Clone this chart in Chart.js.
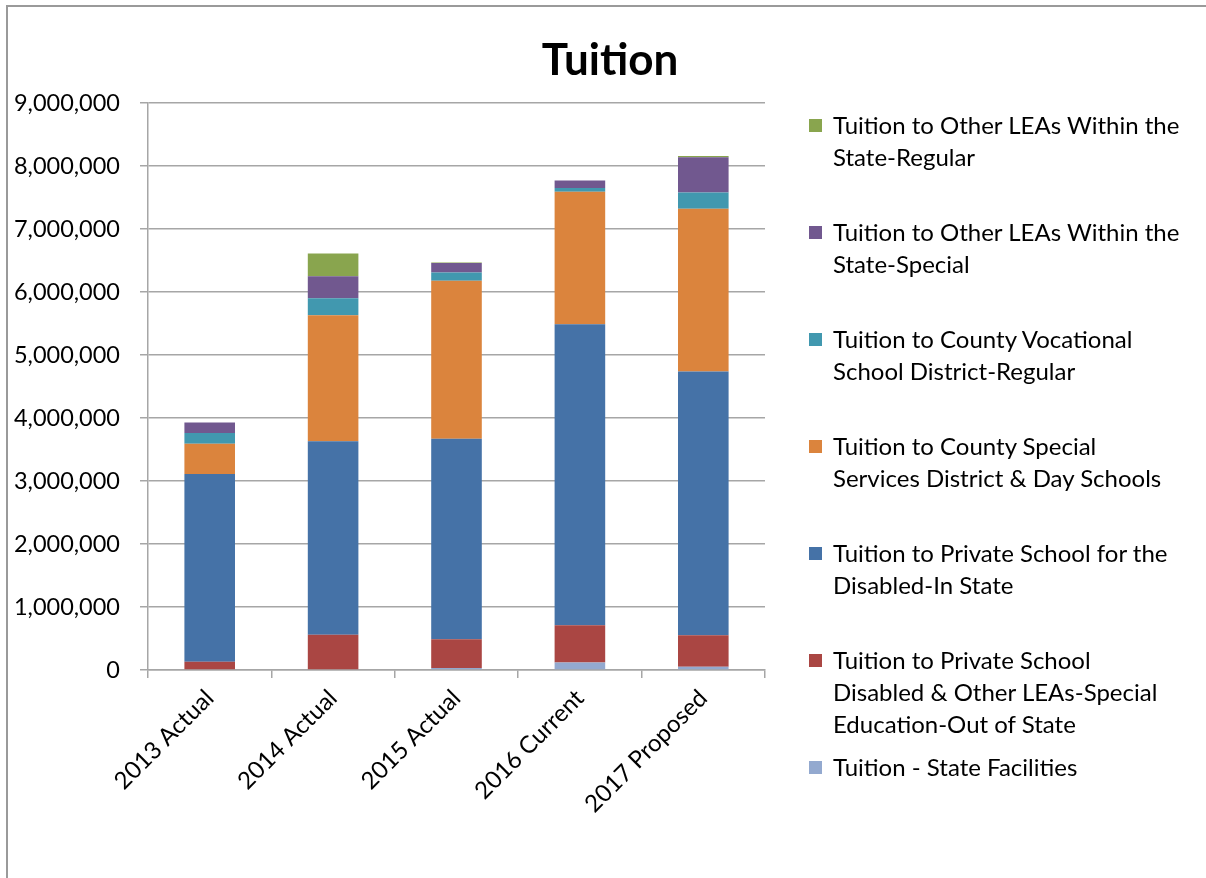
<!DOCTYPE html>
<html>
<head>
<meta charset="utf-8">
<script src="https://cdn.jsdelivr.net/npm/chart.js@4/dist/chart.umd.min.js"></script>
<style>
    html, body { margin: 0; padding: 0; background: #fff; }
    #wrap { position: relative; width: 1206px; height: 878px; overflow: hidden; }
    #frame {
        position: absolute; left: 6px; top: 5px; width: 1200px; height: 873px;
        border-top: 2px solid #9a9a9a; border-left: 2px solid #9a9a9a;
        pointer-events: none;
    }
    #chart { position: absolute; left: 0; top: 0; }
    #title {
        position: absolute; left: 0; width: 1220px; top: 30px; text-align: center;
        font-family: Lato, sans-serif; font-weight: bold; font-size: 44px; line-height: 56px; color: #000;
    }
    #legend {
        position: absolute; left: 809px; top: 109px; width: 395px;
        font-family: Lato, sans-serif; font-size: 24px; line-height: 32px; color: #000;
    }
    .item { position: relative; height: 107px; padding-left: 24px; white-space: nowrap; }
    .box { position: absolute; left: 0; top: 10px; width: 13px; height: 13px; }
</style>
</head>
<body>
<div id="wrap">
    <canvas id="chart" width="1206" height="878"></canvas>
    <div id="frame"></div>
    <div id="title">Tuition</div>
    <div id="legend"></div>
</div>
<script>
const categories = ["2013 Actual", "2014 Actual", "2015 Actual", "2016 Current", "2017 Proposed"];

// series, bottom of the stack first
const stateFacilities   = [0, 0, 30000, 120000, 50000];
const privateOutOfState = [130000, 560000, 460000, 590000, 500000];
const privateInState    = [2980000, 3070000, 3180000, 4780000, 4190000];
const countySpecial     = [480000, 2000000, 2510000, 2100000, 2580000];
const countyVocational  = [170000, 270000, 130000, 60000, 260000];
const otherLeaSpecial   = [170000, 350000, 150000, 120000, 560000];
const otherLeaRegular   = [0, 360000, 10000, 0, 20000];

const yTicks = [0, 1000000, 2000000, 3000000, 4000000, 5000000, 6000000, 7000000, 8000000, 9000000];

// legend lines as wrapped in the original
const seriesNames = [
    ["Tuition - State Facilities"],
    ["Tuition to Private School", "Disabled & Other LEAs-Special", "Education-Out of State"],
    ["Tuition to Private School for the", "Disabled-In State"],
    ["Tuition to County Special", "Services District & Day Schools"],
    ["Tuition to County Vocational", "School District-Regular"],
    ["Tuition to Other LEAs Within the", "State-Special"],
    ["Tuition to Other LEAs Within the", "State-Regular"],
];
const colors = ["#93A9CF", "#AA4643", "#4572A7", "#DB843D", "#4198AF", "#71588F", "#89A54E"];
const seriesData = [stateFacilities, privateOutOfState, privateInState, countySpecial,
    countyVocational, otherLeaSpecial, otherLeaRegular];

const FONT = "Lato";
const gridColor = "#a6a6a6";

const datasets = seriesData.map((d, i) => ({
    label: seriesNames[i].join(" "),
    data: d,
    backgroundColor: colors[i],
    borderWidth: 0,
    categoryPercentage: 1,
    barPercentage: 0.41,
}));

const chart = new Chart(document.getElementById("chart"), {
    type: "bar",
    data: { labels: categories, datasets: datasets },
    options: {
        responsive: false,
        animation: false,
        layout: { padding: { left: 12, right: 441, top: 103, bottom: 0 } },
        plugins: {
            legend: { display: false },
            tooltip: { enabled: false },
            title: { display: false },
        },
        scales: {
            x: {
                stacked: true,
                offset: true,
                grid: {
                    offset: true,
                    drawOnChartArea: false,
                    drawTicks: true,
                    tickLength: 8,
                    color: gridColor,
                    lineWidth: 1.5,
                },
                border: { display: true, color: gridColor, width: 1.5 },
                ticks: {
                    color: "#000",
                    minRotation: 45,
                    maxRotation: 45,
                    padding: 6,
                    font: { family: FONT, size: 24 },
                },
                afterFit: (scale) => { scale.height = 208; },
            },
            y: {
                stacked: true,
                min: 0,
                max: 9000000,
                afterBuildTicks: (scale) => { scale.ticks = yTicks.map(v => ({ value: v })); },
                grid: {
                    color: gridColor,
                    lineWidth: 1.5,
                    drawTicks: true,
                    tickLength: 8,
                },
                border: { display: true, color: gridColor, width: 1.5 },
                ticks: {
                    color: "#000",
                    padding: 20,
                    font: { family: FONT, size: 23.5 },
                    callback: (v) => Number(v).toLocaleString("en-US"),
                },
                afterFit: (scale) => { scale.width = 136; },
            },
        },
    },
});

// legend on the right, top entry = top of the stack
const legendEl = document.getElementById("legend");
chart.data.datasets.map((ds, i) => i).reverse().forEach(i => {
    const item = document.createElement("div");
    item.className = "item";
    const box = document.createElement("span");
    box.className = "box";
    box.style.background = colors[i];
    item.appendChild(box);
    item.insertAdjacentHTML("beforeend", seriesNames[i].map(s => s.replace(/&/g, "&amp;")).join("<br>"));
    legendEl.appendChild(item);
});
</script>
</body>
</html>
